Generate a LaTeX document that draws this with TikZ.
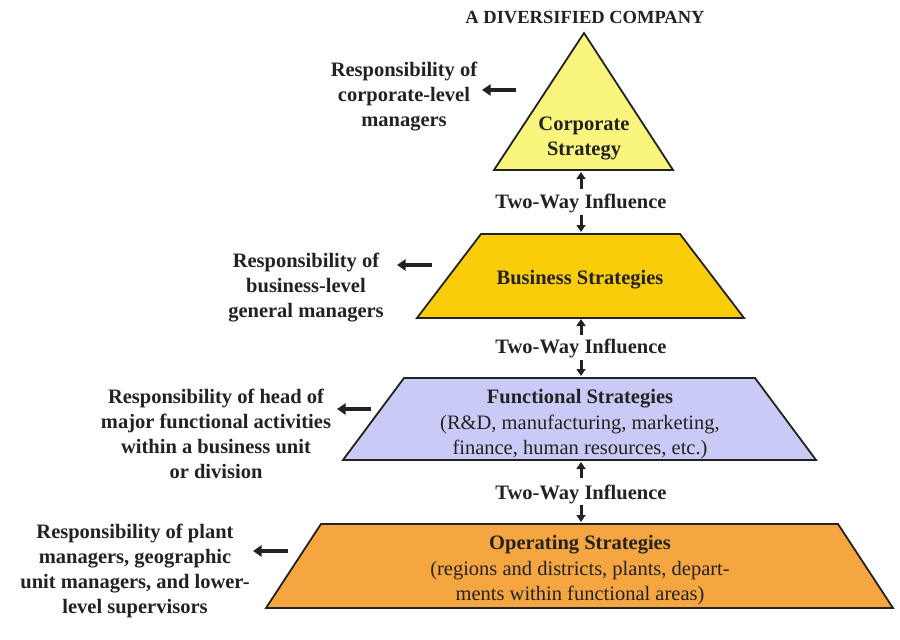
\documentclass[tikz,border=0pt]{standalone}
\usepackage{fontspec}
\setmainfont{Liberation Serif}
\usetikzlibrary{arrows.meta}
\definecolor{txt}{HTML}{222222}
\definecolor{corpfill}{RGB}{250,245,125}
\definecolor{busfill}{RGB}{250,205,10}
\definecolor{funcfill}{RGB}{202,202,246}
\definecolor{opfill}{RGB}{246,166,64}
\tikzset{
  level/.style={draw=txt, line width=1.8pt, line join=miter},
  lbl/.style={align=center, text=txt, font=\fontsize{20.5}{25}\selectfont\bfseries, inner sep=0pt},
  inner/.style={align=center, text=txt, font=\fontsize{20.5}{25}\selectfont, inner sep=0pt},
  respArrow/.style={draw=txt, line width=4pt, -{Triangle[length=8.5pt,width=11pt]}},
  inflArrow/.style={draw=txt, line width=3pt, -{Triangle[length=7pt,width=9pt]}},
}
\begin{document}
\begin{tikzpicture}[x=1pt,y=-1pt]
\useasboundingbox (0,0) rectangle (900,640);
\fill[white] (0,0) rectangle (900,640);

% title
\node[lbl, font=\fontsize{18.5}{22}\selectfont\bfseries] (title) at (585,18) {A DIVERSIFIED COMPANY};

% shapes
\draw[level, fill=corpfill] (584,33) -- (673,170) -- (494,170) -- cycle;
\draw[level, fill=busfill] (481,234) -- (680,234) -- (744,318) -- (417,318) -- cycle;
\draw[level, fill=funcfill] (404,378) -- (755,378) -- (816,460) -- (343,460) -- cycle;
\draw[level, fill=opfill] (321,524) -- (838,524) -- (893,608) -- (266,608) -- cycle;

% shape texts
\node[lbl] (corp) at (584,138) {Corporate\\Strategy};
\node[lbl] (bus) at (580,280) {Business Strategies};
\node[lbl] (funchead) at (580,399) {Functional Strategies};
\node[inner] (funcbody) at (580,437) {(R\&D, manufacturing, marketing,\\finance, human resources, etc.)};
\node[lbl] (ophead) at (580,545) {Operating Strategies};
\node[inner] (opbody) at (580,583) {(regions and districts, plants, depart-\\ments within functional areas)};

% two-way influence
\node[lbl] (tw1) at (581,203) {Two-Way Influence};
\node[lbl] (tw2) at (581,348) {Two-Way Influence};
\node[lbl] (tw3) at (581,494) {Two-Way Influence};

\coordinate (u1s) at (581,189); \coordinate (u1e) at (581,172);
\coordinate (d1s) at (581,215); \coordinate (d1e) at (581,232);
\coordinate (u2s) at (581,335); \coordinate (u2e) at (581,319);
\coordinate (d2s) at (581,360); \coordinate (d2e) at (581,376);
\coordinate (u3s) at (581,478); \coordinate (u3e) at (581,462);
\coordinate (d3s) at (581,505); \coordinate (d3e) at (581,522);
\draw[inflArrow] (u1s) -- (u1e);
\draw[inflArrow] (d1s) -- (d1e);
\draw[inflArrow] (u2s) -- (u2e);
\draw[inflArrow] (d2s) -- (d2e);
\draw[inflArrow] (u3s) -- (u3e);
\draw[inflArrow] (d3s) -- (d3e);

% responsibility labels
\node[lbl] (r1) at (404,96.5) {Responsibility of\\corporate-level\\managers};
\node[lbl] (r2) at (306,288) {Responsibility of\\business-level\\general managers};
\node[lbl] (r3) at (216,434) {Responsibility of head of\\major functional activities\\within a business unit\\or division};
\node[lbl] (r4) at (135,571) {Responsibility of plant\\managers, geographic\\unit managers, and lower-\\level supervisors};

\coordinate (a1s) at (516,90); \coordinate (a1e) at (482,90);
\coordinate (a2s) at (432,265); \coordinate (a2e) at (397,265);
\coordinate (a3s) at (371,409); \coordinate (a3e) at (337,409);
\coordinate (a4s) at (288,551); \coordinate (a4e) at (253,551);
\draw[respArrow] (a1s) -- (a1e);
\draw[respArrow] (a2s) -- (a2e);
\draw[respArrow] (a3s) -- (a3e);
\draw[respArrow] (a4s) -- (a4e);
\end{tikzpicture}
\end{document}
